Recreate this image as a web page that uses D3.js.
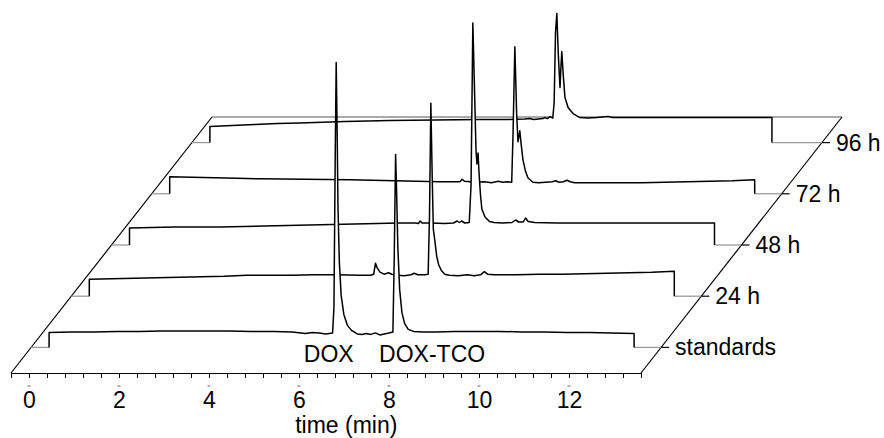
<!DOCTYPE html>
<html>
<head>
<meta charset="utf-8">
<script src="https://cdn.jsdelivr.net/npm/d3@7"></script>
<style>
  body { margin: 0; background: #fff; }
  text { font-family: "Liberation Sans", Arial, sans-serif; fill: #000; }
</style>
</head>
<body>
<div id="chart"></div>
<script>
/**
 * DATA
 * time in min, signal in a.u. above each trace's floor
 * */
const seriesNames = ["standards", "24 h", "48 h", "72 h", "96 h"];
const timeLabels = [0, 2, 4, 6, 8, 10, 12];
const peakLabels = ["DOX", "DOX-TCO"];

const traceStandards = [[0,0],[0,15],[0.5,15.5],[1,15.5],[1.5,16],[2,16],[2.5,16.5],[3,16.5],[3.5,16.5],[4,16.5],[4.5,16],[5,16],[5.4,15.5],[5.7,14],[5.85,15],[6.0,14.5],[6.15,13.5],[6.3,14.5],[6.33,40],[6.36,200],[6.38,285],[6.40,220],[6.42,140],[6.45,85],[6.49,52],[6.55,33],[6.63,22],[6.72,17],[6.85,13.5],[6.95,13],[7.05,14],[7.15,13],[7.25,14.5],[7.35,12.5],[7.45,13.5],[7.55,14.5],[7.64,15.5],[7.67,90],[7.70,193],[7.72,160],[7.75,100],[7.79,58],[7.84,35],[7.90,24],[7.98,18],[8.1,16],[8.3,15.5],[8.6,15.5],[9,16],[9.5,16],[10,16],[10.5,15.5],[11,15.5],[11.5,15],[12,15],[12.5,14.5],[13.0,14],[13.0,0]];

const trace24h = [[0,0],[0,17],[0.5,17.5],[1,18],[1.5,18.5],[2,19],[2.5,19.5],[3,20],[3.5,21],[4,21],[4.5,21],[5,21.5],[5.5,21.5],[6,21],[6.25,21],[6.32,22],[6.36,33],[6.40,28],[6.46,24],[6.55,22],[6.65,23.5],[6.72,22],[6.85,21],[7.0,20.5],[7.15,21.5],[7.22,23],[7.3,21.5],[7.45,21.5],[7.53,22],[7.56,80],[7.59,193],[7.62,120],[7.645,67],[7.68,55],[7.72,40],[7.76,32],[7.82,26],[7.9,22],[8.0,21],[8.2,20.5],[8.4,21.5],[8.55,20.5],[8.7,21.5],[8.78,24.5],[8.85,22],[9.0,21.5],[9.5,21.5],[10,22],[10.5,22],[11,22.5],[11.5,23],[12,23.5],[12.5,24],[13.0,25],[13.0,0]];

const trace48h = [[0,0],[0,17],[0.5,17.5],[1,18],[2,18],[3,19],[4,20],[5,21],[6,22],[6.35,22],[6.42,21.5],[6.46,24],[6.5,22],[6.7,22],[7.0,21.5],[7.2,22],[7.28,24],[7.33,22.5],[7.38,24],[7.45,22],[7.55,22.5],[7.59,60],[7.63,222],[7.67,150],[7.70,95],[7.72,81],[7.745,92],[7.77,70],[7.80,50],[7.83,36],[7.9,28],[8.0,23.5],[8.1,22.5],[8.3,22],[8.5,22.5],[8.58,25],[8.65,23],[8.75,23],[8.8,27],[8.86,23.5],[9.0,22.5],[9.5,22],[10,22],[11,22],[12,22],[13.0,22],[13.0,0]];

const trace72h = [[0,0],[0,17],[0.5,16.5],[1,16],[1.5,15.5],[2,15],[3,14.5],[4,14],[5,13],[5.5,12.5],[6,12],[6.3,12],[6.45,12],[6.5,14.5],[6.55,12.5],[6.8,11.5],[7.0,12],[7.15,11],[7.3,12.5],[7.4,11.5],[7.5,12],[7.6,11.5],[7.63,60],[7.67,147],[7.71,80],[7.74,52],[7.78,63],[7.81,50],[7.85,34],[7.91,22],[7.96,16],[8.07,11.5],[8.2,11],[8.5,12],[8.58,13],[8.65,11.5],[8.75,12],[8.83,13.5],[8.9,12],[9.0,11],[9.5,11],[10,11],[10.5,11],[11,11.5],[11.5,12],[12,12.5],[12.5,13],[13.0,14],[13.0,0]];

const trace96h = [[0,0],[0,16],[0.5,17],[1,18],[1.5,19],[2,19.5],[3,21],[4,22],[5,22.5],[6,23],[6.5,23],[7.0,23.5],[7.1,24],[7.2,23],[7.4,24],[7.44,25],[7.5,24],[7.56,26],[7.62,24.5],[7.65,40],[7.68,110],[7.71,129],[7.74,90],[7.78,55],[7.80,75],[7.82,91],[7.85,69],[7.89,45],[7.96,35],[8.07,29],[8.22,25],[8.4,24.5],[8.6,25],[8.85,26],[8.95,25],[9,25],[10,25],[11,25],[12,25],[12.49,25],[12.49,0]];

const traces = [traceStandards, trace24h, trace48h, trace72h, trace96h];

/**
 * LAYOUT
 * */
const width = 884, height = 438;
const frontY = 373;
const depthDx = 201, depthDy = 256;

const x = d3.scaleLinear().domain([-0.4, 13.6]).range([11, 641]);
const depth = d3.scaleLinear().domain([-0.5, 4.5]).range([0, 1]);
const signal = d3.scaleLinear().domain([0, 300]).range([0, 300]);

// oblique projection: time along x, series into depth, signal up
function proj(t, z, v) {
  const f = depth(z);
  return [x(t) + f * depthDx, frontY - f * depthDy - signal(v)];
}

const svg = d3.select("#chart")
  .append("svg")
  .attr("width", width)
  .attr("height", height);

const [t0, t1] = x.domain();

// back edge of the floor
svg.append("line")
  .attr("x1", proj(t0, 4.5, 0)[0]).attr("y1", proj(t0, 4.5, 0)[1])
  .attr("x2", proj(t1, 4.5, 0)[0]).attr("y2", proj(t1, 4.5, 0)[1])
  .attr("stroke", "#8c8c8c")
  .attr("stroke-width", 1.5);

// side edges
[t0, t1].forEach(t => {
  const a = proj(t, -0.5, 0), b = proj(t, 4.5, 0);
  svg.append("line")
    .attr("x1", a[0]).attr("y1", a[1])
    .attr("x2", b[0]).attr("y2", b[1])
    .attr("stroke", "#000")
    .attr("stroke-width", 1.2);
});

const line = d3.line();

// traces back to front, white fill hides what is behind
d3.range(traces.length - 1, -1, -1).forEach(z => {
  const data = traces[z];
  const start = data[0][0], end = data[data.length - 1][0];

  const g = svg.append("g");

  // floor line outside the recorded range
  [[t0, start], [end, t1]].forEach(([a, b]) => {
    g.append("path")
      .attr("d", line([proj(a, z, 0), proj(b, z, 0)]))
      .attr("stroke", "#9a9a9a")
      .attr("stroke-width", 1.3)
      .attr("fill", "none");
  });

  g.append("path")
    .attr("d", line(data.map(d => proj(d[0], z, d[1]))) + "Z")
    .attr("fill", "#fff")
    .attr("stroke", "none");

  g.append("path")
    .attr("d", line(data.map(d => proj(d[0], z, d[1]))))
    .attr("fill", "none")
    .attr("stroke", "#000")
    .attr("stroke-width", 1.5)
    .attr("stroke-linejoin", "round");
});

// time axis along the front edge
const tickVals = d3.range(36).map(i => +(t0 + i * 0.4).toFixed(2));
const isMajor = d => Math.abs(d - Math.round(d)) < 1e-6 && timeLabels.includes(Math.round(d));

const axis = svg.append("g")
  .attr("transform", `translate(0,${frontY})`)
  .call(d3.axisBottom(x)
    .tickValues(tickVals)
    .tickSize(5)
    .tickSizeOuter(0)
    .tickPadding(14)
    .tickFormat(d => isMajor(d) ? Math.round(d) : ""));

axis.select(".domain").attr("stroke-width", 1.2);
axis.selectAll(".tick line").attr("stroke-width", 1);
axis.selectAll(".tick text")
  .style("font-size", "23px")
  .attr("fill", "#000");

// little marks under the major ticks
svg.append("g")
  .selectAll("line")
  .data(timeLabels)
  .join("line")
  .attr("x1", d => x(d) - 1.5)
  .attr("x2", d => x(d) + 1.5)
  .attr("y1", frontY + 13)
  .attr("y2", frontY + 13)
  .attr("stroke", "#666")
  .attr("stroke-width", 1);

svg.append("text")
  .attr("x", x(7.05))
  .attr("y", 433)
  .attr("text-anchor", "middle")
  .style("font-size", "23px")
  .text("time (min)");

// series axis on the right edge
const sLabels = svg.append("g")
  .selectAll("g")
  .data(seriesNames)
  .join("g")
  .attr("transform", (d, i) => {
    const p = proj(t1, i, 0);
    return `translate(${p[0]},${p[1]})`;
  });

sLabels.append("line")
  .attr("x1", 0).attr("x2", 8)
  .attr("stroke", "#000")
  .attr("stroke-width", 1.2);

sLabels.append("text")
  .attr("x", 14)
  .attr("y", 8)
  .style("font-size", "23px")
  .text(d => d);

// peak names
svg.append("text")
  .attr("x", x(6.66))
  .attr("y", 362)
  .attr("text-anchor", "middle")
  .style("font-size", "23px")
  .text(peakLabels[0]);

svg.append("text")
  .attr("x", x(7.78))
  .attr("y", 362)
  .attr("text-anchor", "start")
  .style("font-size", "23px")
  .text(peakLabels[1]);
</script>
</body>
</html>
